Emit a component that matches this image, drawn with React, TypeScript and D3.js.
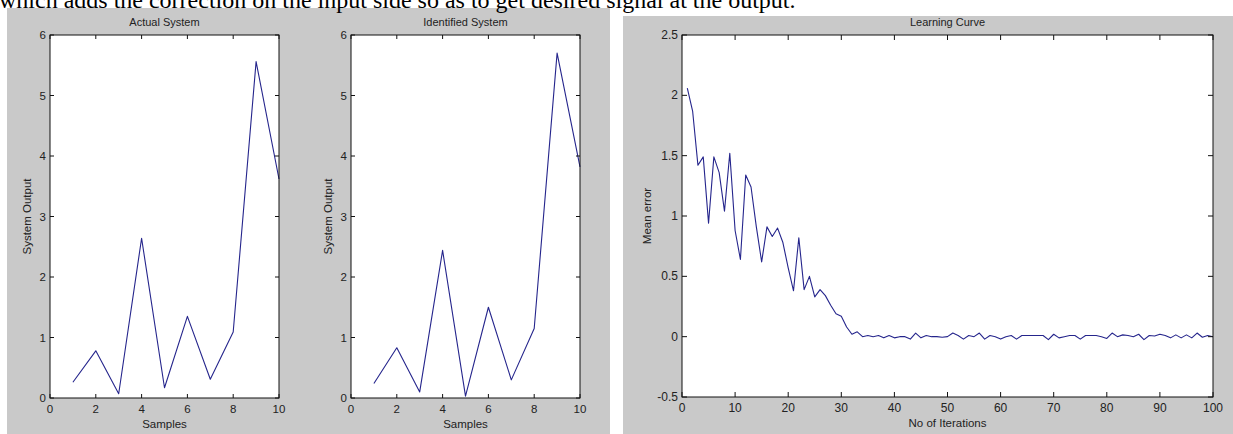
import React from "react";
import * as d3 from "d3";

// values
const samples = [1, 2, 3, 4, 5, 6, 7, 8, 9, 10];
const actualOutput = [0.26, 0.78, 0.07, 2.64, 0.17, 1.35, 0.31, 1.09, 5.56, 3.62];
const identifiedOutput = [0.24, 0.83, 0.1, 2.44, 0.03, 1.5, 0.3, 1.15, 5.7, 3.82];

const meanError = [
    2.06, 1.87, 1.42, 1.49, 0.94, 1.49, 1.36, 1.04, 1.52, 0.88,
    0.64, 1.34, 1.24, 0.91, 0.62, 0.91, 0.83, 0.9, 0.78, 0.57,
    0.38, 0.82, 0.39, 0.5, 0.33, 0.39, 0.34, 0.26, 0.19, 0.17,
    0.08, 0.02, 0.04, 0.0, 0.01, 0.0, 0.01, -0.01, 0.01, -0.01,
    0.0, 0.0, -0.02, 0.03, -0.01, 0.01, 0.0, 0.0, -0.005, 0.0,
    0.03, 0.01, -0.02, 0.01, 0.0, 0.03, -0.02, 0.01, 0.0, -0.02,
    0.0, 0.01, -0.02, 0.01, 0.01, 0.01, 0.01, 0.01, -0.025, 0.02,
    -0.01, 0.0, 0.01, 0.01, -0.02, 0.01, 0.01, 0.01, 0.0, -0.015,
    0.03, 0.0, 0.015, 0.01, 0.0, 0.02, -0.025, 0.01, 0.005, 0.02,
    0.01, -0.01, 0.015, -0.01, 0.015, -0.01, 0.03, -0.005, 0.01, 0.0,
];
const iterations = meanError.map((_, i) => i + 1);

const sampleTicks = [0, 2, 4, 6, 8, 10];
const outputTicks = [0, 1, 2, 3, 4, 5, 6];
const iterTicks = [0, 10, 20, 30, 40, 50, 60, 70, 80, 90, 100];
const errorTicks = [-0.5, 0, 0.5, 1, 1.5, 2, 2.5];

const FONT = "'Liberation Sans', Arial, sans-serif";
const LINE = "#25258c";
const FIG_BG = "#c9c9c9";

const Axes = ({ left, right, top, bottom, xDomain, yDomain, xTicks, yTicks, xs, ys,
    title, xLabel, yLabel, yLabelX, tickLen, tickFont }) => {
    const x = d3.scaleLinear().domain(xDomain).range([left, right]);
    const y = d3.scaleLinear().domain(yDomain).range([bottom, top]);
    const line = d3.line<number>()
        .x((d, i) => x(xs[i]))
        .y((d) => y(d));
    const midX = (left + right) / 2;
    const midY = (top + bottom) / 2;

    return (
        <g fontFamily={FONT} fill="#222">
            <rect x={left} y={top} width={right - left} height={bottom - top} fill="#fff" />
            <path d={line(ys)} fill="none" stroke={LINE} strokeWidth={1.1} strokeLinejoin="round" />
            {/* ticks on all four sides, pointing in */}
            {xTicks.map((t) => (
                <g key={"x" + t}>
                    <line x1={x(t)} x2={x(t)} y1={bottom} y2={bottom - tickLen} stroke="#111" />
                    <line x1={x(t)} x2={x(t)} y1={top} y2={top + tickLen} stroke="#111" />
                    <text x={x(t)} y={bottom + 15} textAnchor="middle" fontSize={tickFont}>{t}</text>
                </g>
            ))}
            {yTicks.map((t) => (
                <g key={"y" + t}>
                    <line x1={left} x2={left + tickLen} y1={y(t)} y2={y(t)} stroke="#111" />
                    <line x1={right} x2={right - tickLen} y1={y(t)} y2={y(t)} stroke="#111" />
                    <text x={left - 4} y={y(t) + 4} textAnchor="end" fontSize={tickFont}>{t}</text>
                </g>
            ))}
            <rect x={left} y={top} width={right - left} height={bottom - top} fill="none" stroke="#111" strokeWidth={1} />
            <text x={midX} y={26} textAnchor="middle" fontSize={11}>{title}</text>
            <text x={midX} y={bottom + 30} textAnchor="middle" fontSize={11.5}>{xLabel}</text>
            <text transform={`translate(${yLabelX} ${midY}) rotate(-90)`} textAnchor="middle" fontSize={11.5}>{yLabel}</text>
        </g>
    );
};

const App = () => {
    return (
        <svg width={1233} height={434} style={{ position: "absolute", left: 0, top: 0, background: "#fff" }}>
            {/* left figure window */}
            <rect x={7} y={8} width={603} height={426} fill={FIG_BG} />
            <Axes left={50} right={279} top={35} bottom={398}
                xDomain={[0, 10]} yDomain={[0, 6]} xTicks={sampleTicks} yTicks={outputTicks}
                xs={samples} ys={actualOutput} title="Actual System" xLabel="Samples"
                yLabel="System Output" yLabelX={31} tickLen={4} tickFont={11.5} />
            <Axes left={351} right={580} top={35} bottom={398}
                xDomain={[0, 10]} yDomain={[0, 6]} xTicks={sampleTicks} yTicks={outputTicks}
                xs={samples} ys={identifiedOutput} title="Identified System" xLabel="Samples"
                yLabel="System Output" yLabelX={332} tickLen={4} tickFont={11.5} />

            {/* right figure window */}
            <rect x={623} y={16} width={610} height={418} fill={FIG_BG} />
            <Axes left={682} right={1213} top={35} bottom={397}
                xDomain={[0, 100]} yDomain={[-0.5, 2.5]} xTicks={iterTicks} yTicks={errorTicks}
                xs={iterations} ys={meanError} title="Learning Curve" xLabel="No of Iterations"
                yLabel="Mean error" yLabelX={651} tickLen={5} tickFont={12} />

            {/* cut-off line of body text above the figures */}
            <text x={-1} y={8} fontFamily="'Liberation Serif', 'Times New Roman', serif" fontSize={24} fill="#000">
                which adds the correction on the input side so as to get desired signal at the output.
            </text>
        </svg>
    );
};

export default App;
